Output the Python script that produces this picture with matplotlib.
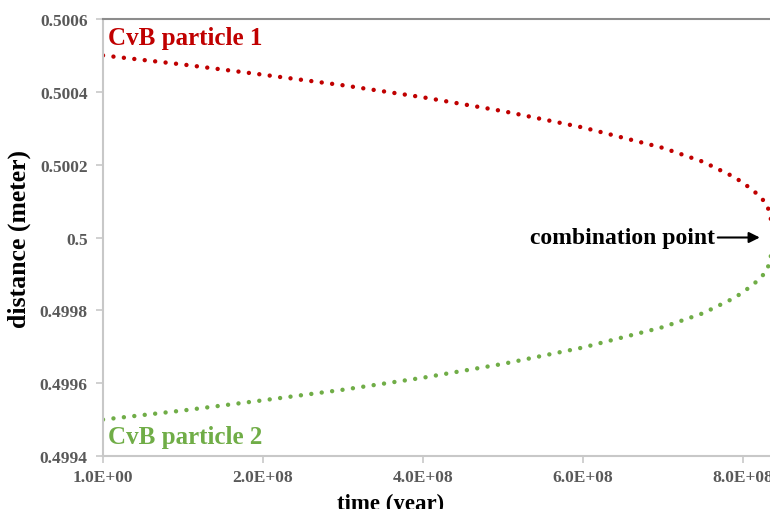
import matplotlib
matplotlib.use('Agg')
import matplotlib.pyplot as plt

# data (time in years, distance in meters)
time = [1, 1.0e8, 2.0e8, 3.0e8, 4.0e8, 5.0e8, 6.0e8, 7.0e8, 7.5e8,
        7.9e8, 8.1e8, 8.2e8, 8.3e8, 8.33e8, 8.36e8]
particle1 = [0.50050, 0.500475, 0.500447, 0.500418, 0.500385, 0.500347,
             0.500302, 0.500246, 0.500208, 0.500165, 0.500134, 0.500115,
             0.500091, 0.500067, 0.50004]
particle2 = [0.49950, 0.499525, 0.499553, 0.499582, 0.499615, 0.499653,
             0.499698, 0.499754, 0.499792, 0.499835, 0.499866, 0.499885,
             0.499909, 0.499933, 0.49996]
xticks = [1, 2e8, 4e8, 6e8, 8e8]
xtick_labels = ['1.0E+00', '2.0E+08', '4.0E+08', '6.0E+08', '8.0E+08']
yticks = [0.4994, 0.4996, 0.4998, 0.5, 0.5002, 0.5004, 0.5006]
ytick_labels = ['0.4994', '0.4996', '0.4998', '0.5', '0.5002', '0.5004', '0.5006']

RED = '#C00000'
GREEN = '#70AD47'
plt.rcParams['font.family'] = ['Liberation Serif', 'DejaVu Serif']
plt.rcParams['font.weight'] = 'bold'

fig = plt.figure(figsize=(7.7, 5.1), dpi=100)
ax = fig.add_axes([0.1338, 0.1039, 0.8662, 0.8569])

# round dots, ~10.5 px apart
dots = (0, (0.001, 2.36))
ax.plot(time, particle1, color=RED, lw=3.2, linestyle=dots, dash_capstyle='round')
ax.plot(time, particle2, color=GREEN, lw=3.2, linestyle=dots, dash_capstyle='round')

ax.set_xlim(1, 8.3375e8)
ax.set_ylim(0.4994, 0.5006)
ax.set_xticks(xticks)
ax.set_xticklabels(xtick_labels)
ax.set_yticks(yticks)
ax.set_yticklabels(ytick_labels)
ax.tick_params(colors='#c8c8c8', labelcolor='#595959', labelsize=12.5, length=5, width=1.2)
for lab in ax.get_xticklabels() + ax.get_yticklabels():
    lab.set_fontweight('bold')
ax.tick_params(axis='x', pad=4)
ax.tick_params(axis='y', pad=6)

ax.spines['left'].set_color('#c8c8c8')
ax.spines['bottom'].set_color('#c8c8c8')
ax.spines['left'].set_linewidth(1.5)
ax.spines['bottom'].set_linewidth(1.5)
ax.spines['top'].set_color('#8c8c8c')
ax.spines['top'].set_linewidth(1.5)
ax.spines['right'].set_visible(False)

ax.set_xlabel('time (year)', fontsize=16.5, fontweight='bold')
ax.xaxis.set_label_coords((391 - 103) / 667, -0.085)
ax.set_ylabel('distance (meter)', fontsize=18.5, fontweight='bold', labelpad=6)

ax.text(0.06e8, 0.500532, 'CvB particle 1', color=RED, fontsize=18,
        fontweight='bold', va='baseline')
ax.text(0.06e8, 0.499435, 'CvB particle 2', color=GREEN, fontsize=18,
        fontweight='bold', va='baseline')

ax.annotate('combination point', xy=(8.21e8, 0.5), xytext=(7.65e8, 0.5),
            fontsize=17, fontweight='bold', ha='right', va='center',
            arrowprops=dict(arrowstyle='-|>', color='black', lw=1.5,
                            shrinkA=0, shrinkB=0, mutation_scale=16))

fig.savefig('out.png', dpi=100)
